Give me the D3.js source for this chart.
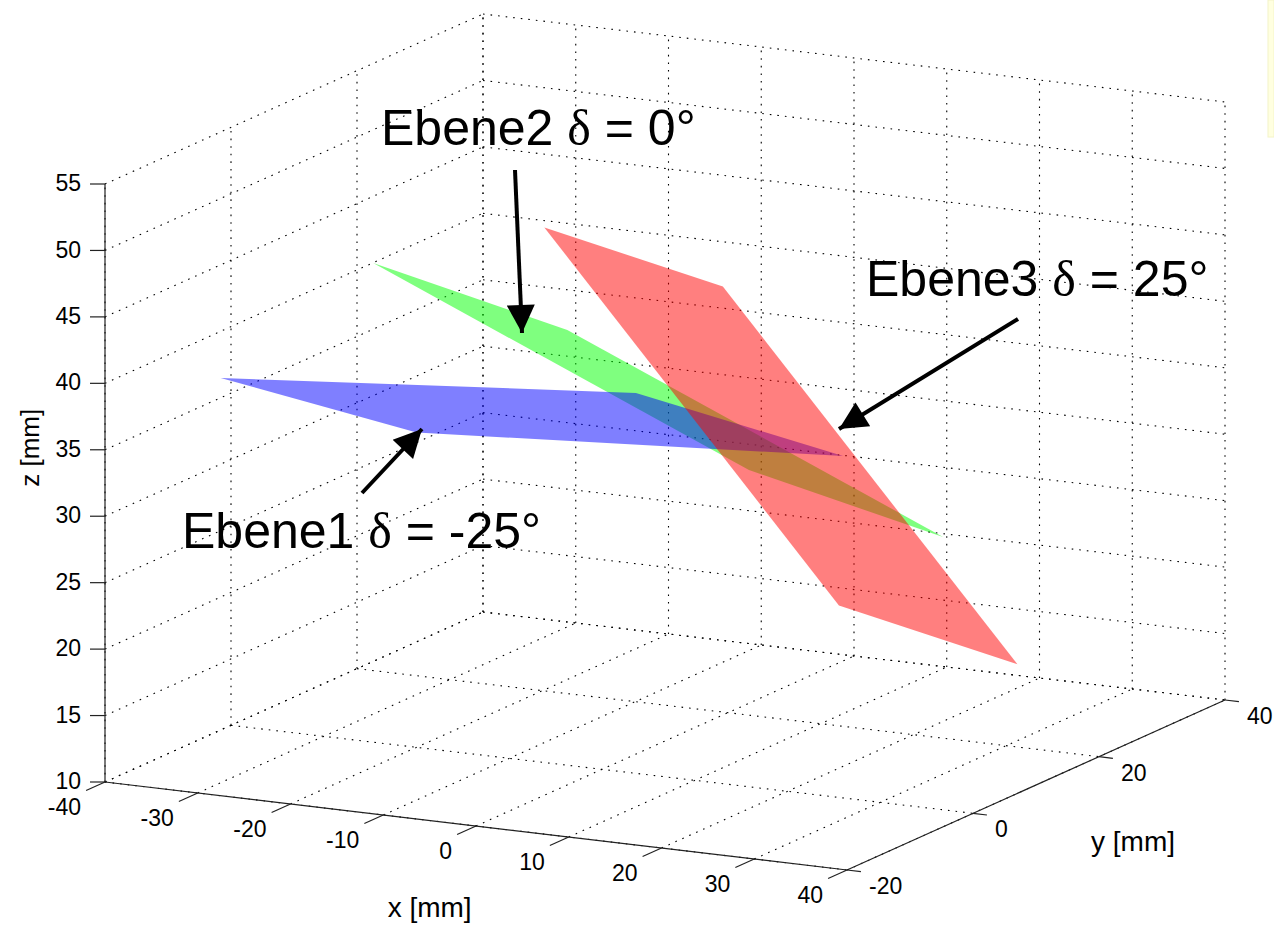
<!DOCTYPE html>
<html>
<head>
<meta charset="utf-8">
<script src="https://cdn.jsdelivr.net/npm/d3@7"></script>
<style>
  body { margin: 0; background: #fff; }
  svg { display: block; font-family: "Liberation Sans", Arial, Helvetica, sans-serif; }
</style>
</head>
<body>
<main></main>
<script>
const xTicks = [-40, -30, -20, -10, 0, 10, 20, 30, 40];
const yTicks = [-20, 0, 20, 40];
const zTicks = [10, 15, 20, 25, 30, 35, 40, 45, 50, 55];

// corners of the three planes (x, y, z in mm)
const ebene1X = [-35.3, -21.3, 6.6, -8.6];
const ebene1Y = [-8.55, 36.75, 28.55, -16.75];
const ebene1Z = [38.35, 28.73, 28.04, 38.2];

const ebene2X = [-22.7, 6.45, 21.15, -8.0];
const ebene2Y = [-2.9, -15.0, 23.0, 35.1];
const ebene2Z = [46.84, 46.79, 24.33, 24.37];

const ebene3X = [-6.52, 19.81, 31.51, 5.18];
const ebene3Y = [0.45, -9.98, 19.55, 29.98];
const ebene3Z = [50.14, 50.1, 16.34, 16.37];

const labels = ["Ebene1", "Ebene2", "Ebene3"];
const deltas = ["-25°", "0°", "25°"];

const w = 1274;
const h = 925;

// 3d view: one scale per axis, then a fixed orthographic view
const fx = d3.scaleLinear().domain([-40, 40]).range([0, 1]);
const fy = d3.scaleLinear().domain([-20, 40]).range([0, 1]);
const fz = d3.scaleLinear().domain([10, 55]).range([0, 1]);
const O = [105, 782], EX = [742, 88], EY = [378, -170], EZ = [0, -598];

function proj(x, y, z) {
  const a = fx(x), b = fy(y), c = fz(z);
  return [O[0] + a * EX[0] + b * EY[0] + c * EZ[0],
          O[1] + a * EX[1] + b * EY[1] + c * EZ[1]];
}

const svg = d3.select("main").append("svg")
  .attr("width", w)
  .attr("height", h);

// little yellow strip on the right edge
svg.append("rect").attr("x", 1268).attr("y", 0).attr("width", 6).attr("height", 137)
  .attr("fill", "#ffffe0").attr("stroke", "#f4f4c8");

const line = d3.line();

// grid on floor and the two back walls
const grid = [];
xTicks.forEach(x => {
  grid.push([[x, -20, 10], [x, 40, 10]]);   // floor
  grid.push([[x, 40, 10], [x, 40, 55]]);    // back wall
});
yTicks.forEach(y => {
  grid.push([[-40, y, 10], [40, y, 10]]);   // floor
  grid.push([[-40, y, 10], [-40, y, 55]]);  // left wall
});
zTicks.forEach(z => {
  grid.push([[-40, 40, z], [40, 40, z]]);   // back wall
  grid.push([[-40, -20, z], [-40, 40, z]]); // left wall
});

svg.append("g").selectAll("path")
  .data(grid)
  .enter()
  .append("path")
  .attr("d", d => line(d.map(p => proj(...p))))
  .attr("fill", "none")
  .attr("stroke", "#000")
  .attr("stroke-width", 1.1)
  .attr("stroke-dasharray", "1.6,6");

// axes
const axes = [
  [[-40, -20, 10], [40, -20, 10]],
  [[40, -20, 10], [40, 40, 10]],
  [[-40, -20, 10], [-40, -20, 55]]
];
svg.append("g").selectAll("path")
  .data(axes)
  .enter()
  .append("path")
  .attr("d", d => line(d.map(p => proj(...p))))
  .attr("stroke", "#222")
  .attr("stroke-width", 1.2);

const tickG = svg.append("g").attr("stroke", "#222").attr("stroke-width", 1.2);
const labG = svg.append("g").attr("font-size", 23).attr("fill", "#000");

xTicks.forEach(x => {
  const p = proj(x, -20, 10);
  const q = proj(x, -23, 10);
  tickG.append("path").attr("d", line([p, q]));
  labG.append("text").attr("x", p[0] - 24).attr("y", p[1] + 27)
    .attr("text-anchor", "end").attr("dominant-baseline", "middle").text(x);
});
yTicks.forEach(y => {
  const p = proj(40, y, 10);
  const q = proj(41.5, y, 10);
  tickG.append("path").attr("d", line([p, q]));
  labG.append("text").attr("x", p[0] + 22).attr("y", p[1] + 18)
    .attr("text-anchor", "start").attr("dominant-baseline", "middle").text(y);
});
zTicks.forEach(z => {
  const p = proj(-40, -20, z);
  tickG.append("path").attr("d", line([p, [p[0] - 15, p[1]]]));
  labG.append("text").attr("x", p[0] - 24).attr("y", p[1] + 1)
    .attr("text-anchor", "end").attr("dominant-baseline", "middle").text(z);
});

// axis titles
const xl = proj(-5, -20, 10), yl = proj(40, 10, 10), zl = proj(-40, -20, 35);
svg.append("text").attr("x", xl[0]).attr("y", xl[1] + 96)
  .attr("text-anchor", "middle").attr("font-size", 28).text("x [mm]");
svg.append("text").attr("x", yl[0] + 97).attr("y", yl[1] + 66)
  .attr("text-anchor", "middle").attr("font-size", 28).text("y [mm]");
svg.append("text").attr("transform", `translate(${zl[0] - 66},${zl[1] - 2}) rotate(-90)`)
  .attr("text-anchor", "middle").attr("font-size", 26).text("z [mm]");

// planes, drawn green, blue, red
const planes = [
  {x: ebene2X, y: ebene2Y, z: ebene2Z, color: "#00ff00"},
  {x: ebene1X, y: ebene1Y, z: ebene1Z, color: "#0000ff"},
  {x: ebene3X, y: ebene3Y, z: ebene3Z, color: "#ff0000"}
];
svg.append("g").selectAll("path")
  .data(planes)
  .enter()
  .append("path")
  .attr("d", d => line(d.x.map((v, i) => proj(v, d.y[i], d.z[i]))) + "Z")
  .attr("fill", d => d.color)
  .attr("fill-opacity", 0.5)
  .attr("stroke", "none");

// annotations (figure pixels): text anchor, arrow tail and tip
const annX = [182, 381, 866];
const annY = [548, 145, 296];
const arrows = [
  [[362, 493], [422, 429]],
  [[515, 170], [522, 333]],
  [[1018, 319], [839, 429]]
];

svg.append("defs").append("marker")
  .attr("id", "head")
  .attr("viewBox", "0 0 10 10")
  .attr("refX", 10).attr("refY", 5)
  .attr("markerWidth", 7.5).attr("markerHeight", 7)
  .attr("markerUnits", "strokeWidth")
  .attr("orient", "auto")
  .append("path").attr("d", "M0,0L10,5L0,10Z").attr("fill", "#000");

svg.append("g").selectAll("path")
  .data(arrows)
  .enter()
  .append("path")
  .attr("d", d => line(d))
  .attr("stroke", "#000")
  .attr("stroke-width", 4)
  .attr("marker-end", "url(#head)");

labels.forEach((t, i) => {
  const txt = svg.append("text").attr("x", annX[i]).attr("y", annY[i])
    .attr("font-size", 50).attr("fill", "#000");
  txt.append("tspan").text(t + " ");
  txt.append("tspan").attr("font-family", "'Liberation Serif', 'DejaVu Serif', serif").text("δ");
  txt.append("tspan").text(" = " + deltas[i]);
});
</script>
</body>
</html>
